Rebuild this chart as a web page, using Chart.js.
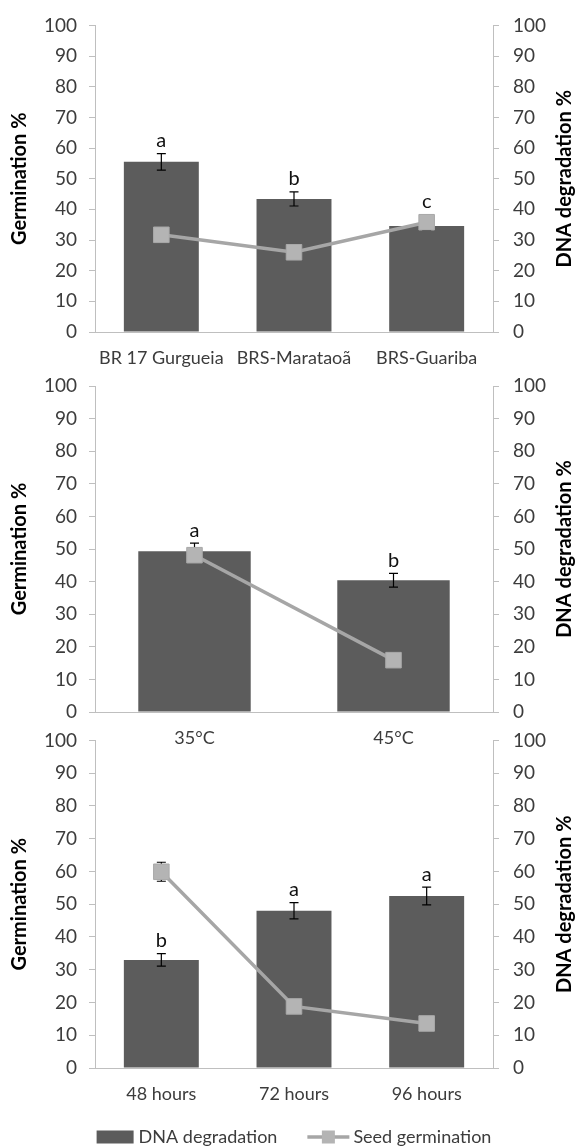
<!DOCTYPE html>
<html>
<head>
<meta charset="utf-8">
<script src="https://cdn.jsdelivr.net/npm/chart.js@4.4.0/dist/chart.umd.min.js"></script>
<style>
    body { margin: 0; background: #fff; }
    #wrap { position: relative; width: 579px; height: 1147px; }
    canvas { position: absolute; left: 0; }
</style>
</head>
<body>
<div id="wrap">
    <canvas id="c1" width="579" height="370" style="top:0"></canvas>
    <canvas id="c2" width="579" height="390" style="top:360px"></canvas>
    <canvas id="c3" width="579" height="432" style="top:715px"></canvas>
</div>
<script>
// Tick labels shared by both y axes
const yTicks = [0, 10, 20, 30, 40, 50, 60, 70, 80, 90, 100];

// Panel 1: cultivars
const cultivars = ["BR 17 Gurgueia", "BRS-Marataoã", "BRS-Guariba"];
const cultivarDna = [55.5, 43.4, 34.6];
const cultivarDnaErr = [2.7, 2.3, 1.4];
const cultivarGerm = [31.7, 26.0, 35.8];
const cultivarGermErr = [0, 0, 0];
const cultivarLetters = ["a", "b", "c"];

// Panel 2: temperature
const temps = ["35°C", "45°C"];
const tempDna = [49.3, 40.4];
const tempDnaErr = [2.5, 2.1];
const tempGerm = [48.1, 15.9];
const tempGermErr = [0, 0];
const tempLetters = ["a", "b"];

// Panel 3: ageing time
const hours = ["48 hours", "72 hours", "96 hours"];
const hoursDna = [33.0, 48.0, 52.5];
const hoursDnaErr = [1.9, 2.5, 2.7];
const hoursGerm = [59.9, 18.8, 13.6];
const hoursGermErr = [2.9, 0, 0];
const hoursLetters = ["b", "a", "a"];

const FONT = "Lato";
const AXIS = "#bfbfbf";
const TXT = "#3c3c3c";
const BAR = "#5c5c5c";
const LINE = "#a6a6a6";
const MARK = "#b4b4b4";

// error bars go between the bars and the line, so markers cover them
const errorBars = {
    id: "errorBars",
    afterDatasetDraw(chart, args) {
        if (args.index !== 0) return;
        const ctx = chart.ctx;
        const x = chart.scales.x;
        ctx.save();
        ctx.strokeStyle = "#000";
        ctx.lineWidth = 1.2;
        chart.data.datasets.forEach(ds => {
            const y = chart.scales[ds.yAxisID];
            ds.errors.forEach((e, i) => {
                if (!e) return;
                const px = x.getPixelForValue(i);
                const hi = y.getPixelForValue(ds.data[i] + e);
                const lo = y.getPixelForValue(ds.data[i] - e);
                ctx.beginPath();
                ctx.moveTo(px, hi); ctx.lineTo(px, lo);
                ctx.moveTo(px - 4.5, hi); ctx.lineTo(px + 4.5, hi);
                ctx.moveTo(px - 4.5, lo); ctx.lineTo(px + 4.5, lo);
                ctx.stroke();
            });
        });
        ctx.restore();
    },
    afterDraw(chart, args, opts) {
        const ctx = chart.ctx;
        const x = chart.scales.x;
        const bars = chart.data.datasets[0];
        const line = chart.data.datasets[1];
        const yR = chart.scales.yR;
        const yL = chart.scales.yL;
        ctx.save();
        ctx.fillStyle = "#111";
        ctx.font = "20px " + FONT;
        ctx.textAlign = "center";
        ctx.textBaseline = "middle";
        opts.letters.forEach((t, i) => {
            let py = yR.getPixelForValue(bars.data[i] + bars.errors[i]);
            const diff = line.data[i] - bars.data[i];
            if (diff > 0 && diff < 5) {
                py = Math.min(py, yL.getPixelForValue(line.data[i]) - 8);
            }
            ctx.fillText(t, x.getPixelForValue(i), py - 13);
        });
        // right axis title reads bottom to top, like the left one
        const area = chart.chartArea;
        ctx.translate(chart.width - 14, (area.top + area.bottom) / 2);
        ctx.rotate(-Math.PI / 2);
        ctx.fillStyle = "#000";
        ctx.font = "bold 20px " + FONT;
        ctx.fillText("DNA degradation %", 0, 0);
        ctx.restore();
    }
};

// legend row under the last panel
const legendRow = {
    id: "legendRow",
    afterDraw(chart) {
        const ctx = chart.ctx;
        const cy = chart.height - 10;
        ctx.save();
        ctx.font = "18px " + FONT;
        ctx.textBaseline = "middle";
        const t1 = "DNA degradation", t2 = "Seed germination";
        const w = 37 + 5 + ctx.measureText(t1).width + 30 + 42 + 4 + ctx.measureText(t2).width;
        let x0 = (chart.chartArea.left + chart.chartArea.right) / 2 - w / 2;
        ctx.fillStyle = BAR;
        ctx.fillRect(x0, cy - 6.5, 37, 13);
        ctx.fillStyle = TXT;
        ctx.fillText(t1, x0 + 42, cy);
        x0 += 42 + ctx.measureText(t1).width + 30;
        ctx.strokeStyle = LINE;
        ctx.lineWidth = 3.5;
        ctx.beginPath();
        ctx.moveTo(x0, cy); ctx.lineTo(x0 + 42, cy);
        ctx.stroke();
        ctx.fillStyle = MARK;
        ctx.fillRect(x0 + 21 - 6.5, cy - 6.5, 13, 13);
        ctx.fillStyle = TXT;
        ctx.fillText(t2, x0 + 46, cy);
        ctx.restore();
    }
};

function yAxis(side) {
    const left = side === "left";
    return {
        position: side,
        min: 0,
        max: 100,
        afterBuildTicks: s => { s.ticks = yTicks.map(v => ({ value: v })); },
        grid: { drawOnChartArea: false, drawTicks: true, tickLength: 6, color: AXIS },
        border: { color: AXIS },
        ticks: { color: TXT, font: { family: FONT, size: 19 }, padding: left ? 12 : 14 },
        title: {
            display: left,
            text: "Germination %",
            color: "#000",
            font: { family: FONT, size: 20, weight: "bold" },
            padding: { top: 8, bottom: 0 }
        },
        afterFit: s => { s.width = left ? 95 : 86; }
    };
}

function makePanel(id, labels, dna, dnaErr, germ, germErr, letters, padTop, padBottom, extra) {
    return new Chart(document.getElementById(id), {
        type: "bar",
        data: {
            labels: labels,
            datasets: [{
                type: "bar",
                label: "DNA degradation",
                data: dna,
                errors: dnaErr,
                yAxisID: "yR",
                backgroundColor: BAR,
                barPercentage: 0.565,
                categoryPercentage: 1,
                order: 2
            }, {
                type: "line",
                label: "Seed germination",
                data: germ,
                errors: germErr,
                yAxisID: "yL",
                borderColor: LINE,
                borderWidth: 3.5,
                pointStyle: "rect",
                pointRadius: 11,
                pointBackgroundColor: MARK,
                pointBorderColor: "#a9a9a9",
                pointBorderWidth: 1,
                tension: 0,
                order: 1
            }]
        },
        options: {
            responsive: false,
            animation: false,
            events: [],
            layout: { padding: { top: padTop, bottom: padBottom, left: 0, right: 0 } },
            plugins: {
                legend: { display: false },
                tooltip: { enabled: false },
                errorBars: { letters: letters }
            },
            scales: {
                x: {
                    offset: true,
                    grid: { drawOnChartArea: false, drawTicks: false },
                    border: { color: AXIS },
                    ticks: { color: TXT, font: { family: FONT, size: 18 }, padding: 15, maxRotation: 0, autoSkip: false },
                    afterFit: s => { s.height = 38; }
                },
                yL: yAxis("left"),
                yR: yAxis("right")
            }
        },
        plugins: [errorBars].concat(extra || [])
    });
}

makePanel("c1", cultivars, cultivarDna, cultivarDnaErr, cultivarGerm, cultivarGermErr, cultivarLetters, 22, 0);
makePanel("c2", temps, tempDna, tempDnaErr, tempGerm, tempGermErr, tempLetters, 26, 0);
makePanel("c3", hours, hoursDna, hoursDnaErr, hoursGerm, hoursGermErr, hoursLetters, 24, 41, [legendRow]);
</script>
</body>
</html>
